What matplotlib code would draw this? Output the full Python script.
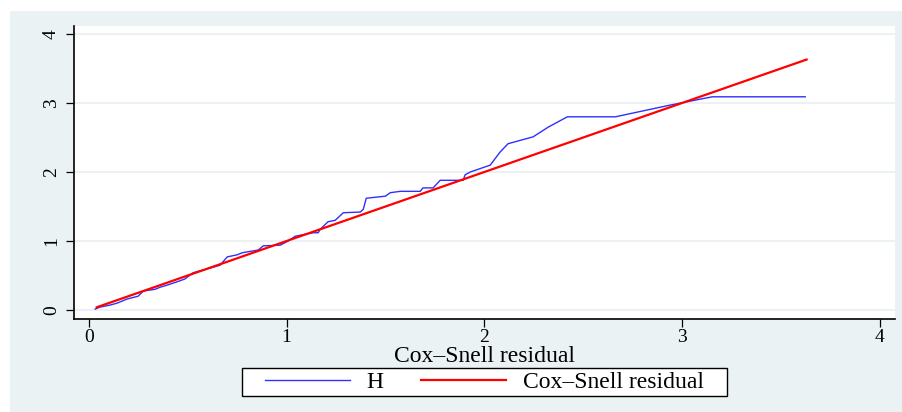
import numpy as np
import matplotlib
matplotlib.use("Agg")
from matplotlib import pyplot as plt
from matplotlib.patches import Rectangle

# Nelson-Aalen cumulative hazard of the Cox-Snell residuals
resid = [0.032, 0.057, 0.108, 0.143, 0.194, 0.249, 0.275, 0.335, 0.36, 0.395,
         0.447, 0.486, 0.527, 0.578, 0.664, 0.70, 0.75, 0.776, 0.857, 0.882,
         0.968, 1.008, 1.044, 1.135, 1.16, 1.17, 1.21, 1.246, 1.287, 1.373,
         1.388, 1.403, 1.50, 1.524, 1.575, 1.676, 1.69, 1.741, 1.777, 1.893,
         1.903, 1.929, 2.03, 2.08, 2.12, 2.247, 2.323, 2.42, 2.663, 2.94,
         3.153, 3.623]
H = [0.014, 0.043, 0.072, 0.10, 0.16, 0.20, 0.275, 0.30, 0.33, 0.36,
     0.41, 0.45, 0.54, 0.58, 0.65, 0.77, 0.80, 0.83, 0.87, 0.93,
     0.94, 1.0, 1.07, 1.12, 1.12, 1.17, 1.28, 1.30, 1.41, 1.42,
     1.46, 1.62, 1.65, 1.70, 1.72, 1.72, 1.77, 1.77, 1.88, 1.88,
     1.96, 2.0, 2.10, 2.29, 2.41, 2.51, 2.65, 2.80, 2.80, 2.97,
     3.09, 3.09]
ref_line = [0.04, 3.63]
xticks = [0, 1, 2, 3, 4]
yticks = [0, 1, 2, 3, 4]

plt.rcParams['font.family'] = ['Liberation Serif', 'DejaVu Serif']

W, Hpx = 903, 412
fig = plt.figure(figsize=(W / 100, Hpx / 100), dpi=100)
fig.patch.set_facecolor('white')
bg = '#eaf2f3'
fig.patches.append(Rectangle((10 / W, 0), 1, (Hpx - 11) / Hpx,
                             transform=fig.transFigure, facecolor=bg,
                             edgecolor='none', zorder=-10))

ax = fig.add_axes([74 / W, 1 - 319 / Hpx, (895 - 74) / W, (319 - 26) / Hpx])
ax.set_facecolor('white')

ax.plot(resid, H, color='#2f2fff', lw=1.0, label='H')
ax.plot(ref_line, ref_line, color='red', lw=1.6, label='Cox\u2013Snell residual')

ax.set_xlim(-0.075, 4.077)
ax.set_ylim(-0.13, 4.116)
ax.set_xticks(xticks)
ax.set_yticks(yticks)
ax.tick_params(axis='both', direction='out', length=6, width=0.9, labelsize=14, colors='black')
ax.tick_params(axis='x', pad=1)
ax.tick_params(axis='y', pad=4)
for lab in ax.get_yticklabels():
    lab.set_rotation(90)
    lab.set_va('center')
ax.grid(axis='y', color='#e9f0f2', lw=1.2)
ax.set_axisbelow(True)
for s in ['top', 'right']:
    ax.spines[s].set_visible(False)
for s in ['left', 'bottom']:
    ax.spines[s].set_linewidth(1.2)

ax.set_xlabel('Cox\u2013Snell residual', fontsize=17, labelpad=0)

# legend box drawn separately so it can be flatter than matplotlib's padding allows
fig.patches.append(Rectangle((242 / W, 1 - 396 / Hpx), (727 - 242) / W, 28 / Hpx,
                             transform=fig.transFigure, facecolor='white',
                             edgecolor='black', lw=1.0, zorder=1))
leg = fig.legend(loc='center', bbox_to_anchor=(484.5 / W, 1 - 382 / Hpx), ncol=2,
                 fontsize=17, frameon=False, handlelength=3.6, columnspacing=1.6,
                 borderpad=0.0, handletextpad=0.7)
leg.set_zorder(2)

fig.savefig('out.png', dpi=100)
